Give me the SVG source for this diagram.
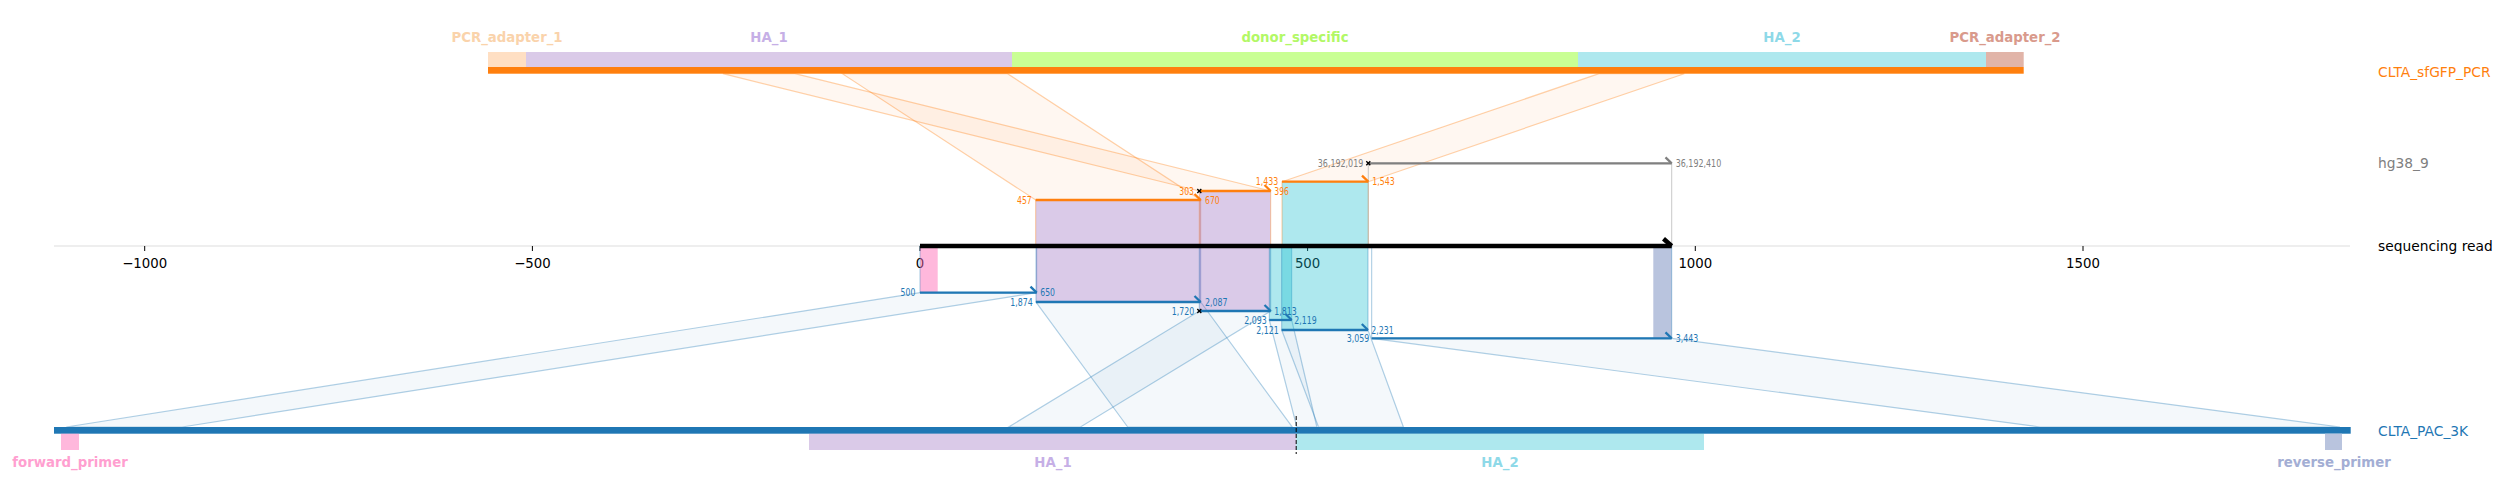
<svg xmlns="http://www.w3.org/2000/svg" width="2504" height="503" viewBox="0 0 2504 503">
<style>
text{font-family:"DejaVu Sans","Liberation Sans",sans-serif}
.tick{font-size:13.3px;fill:#000;text-anchor:middle}
.trk{font-size:13.8px}
.feat{font-size:13.3px;font-weight:bold;text-anchor:middle}
.num{font-size:10px}
.ro{fill:#ff7f0e;fill-opacity:0.06;stroke:#ff7f0e;stroke-opacity:0.35;stroke-width:1.2}
.rb{fill:#1f77b4;fill-opacity:0.05;stroke:#1f77b4;stroke-opacity:0.35;stroke-width:1.2}
.eo{fill:none;stroke:#ff7f0e;stroke-opacity:0.4;stroke-width:1}
.eb{fill:none;stroke:#1f77b4;stroke-opacity:0.4;stroke-width:1}
.eg{fill:none;stroke:#b0b0b0;stroke-opacity:0.7;stroke-width:1}
.pu{fill:#9467bd;fill-opacity:0.35}
.cy{fill:#17becf;fill-opacity:0.35}
.so{stroke:#ff7f0e;stroke-width:2.3;fill:none}
.sb{stroke:#1f77b4;stroke-width:2.3;fill:none}
.sg{stroke:#808080;stroke-width:2.3;fill:none}
.xm{stroke:#000;stroke-width:1.3}
</style>

<!-- axis -->
<g id="axis">
<line x1="54" y1="246" x2="2350" y2="246" stroke="#dddddd" stroke-width="1"/>
<g stroke="#000" stroke-width="1">
<line x1="144.7" y1="246" x2="144.7" y2="251"/>
<line x1="532.4" y1="246" x2="532.4" y2="251"/>
<line x1="920" y1="246" x2="920" y2="251"/>
<line x1="1307.6" y1="246" x2="1307.6" y2="251"/>
<line x1="1695.3" y1="246" x2="1695.3" y2="251"/>
<line x1="2083" y1="246" x2="2083" y2="251"/>
</g>
<text class="tick" x="144.7" y="268.3">−1000</text>
<text class="tick" x="532.4" y="268.3">−500</text>
<text class="tick" x="920" y="268.3">0</text>
<text class="tick" x="1307.6" y="268.3">500</text>
<text class="tick" x="1695.3" y="268.3">1000</text>
<text class="tick" x="2083" y="268.3">1500</text>
</g>

<!-- connectors: ribbons between references and read alignments -->
<g id="connectors">
<polygon class="ro" points="842.3,73.7 1007.5,73.7 1200.7,200 1035.7,200"/>
<polygon class="ro" points="722.9,73.7 795,73.7 1270.7,191 1199.3,191"/>
<polygon class="ro" points="1599,73.7 1684.3,73.7 1368.3,181.7 1282,181.7"/>
<polygon class="rb" points="920,292.7 1036.7,292.7 182.1,427 66.3,427"/>
<polygon class="rb" points="1036,302 1200.7,302 1292.2,427 1127.7,427"/>
<polygon class="rb" points="1199.3,311 1270.7,311 1080.5,427 1008.7,427"/>
<polygon class="rb" points="1269.3,320 1291.7,320 1316.9,427 1296.8,427"/>
<polygon class="rb" points="1281.7,330 1368,330 1403.4,427 1318.5,427"/>
<polygon class="rb" points="1371.7,338.3 1671.7,338.3 2340,427 2040,427"/>
</g>

<!-- top reference track -->
<g id="track-CLTA_sfGFP_PCR">
<rect x="488" y="52" width="38" height="15" fill="#ff7f0e" fill-opacity="0.25"/>
<rect x="526" y="52" width="486" height="15" class="pu"/>
<rect x="1012" y="52" width="566" height="15" fill="#7fff00" fill-opacity="0.42"/>
<rect x="1578" y="52" width="408" height="15" class="cy"/>
<rect x="1986" y="52" width="37.7" height="15" fill="#e1b4a8"/>
<rect x="488" y="67" width="1535.7" height="6.7" fill="#ff7f0e"/>
<text class="feat" x="507" y="42" fill="#fad3ab">PCR_adapter_1</text>
<text class="feat" x="769" y="42" fill="#c6afe6">HA_1</text>
<text class="feat" x="1295" y="42" fill="#b2f866">donor_specific</text>
<text class="feat" x="1782" y="42" fill="#8ed9e8">HA_2</text>
<text class="feat" x="2005" y="42" fill="#d99a8c">PCR_adapter_2</text>
<text class="trk" x="2378" y="77" fill="#ff7f0e">CLTA_sfGFP_PCR</text>
</g>

<g id="track-hg38_9">
<text class="trk" x="2378" y="168" fill="#808080">hg38_9</text>
</g>

<!-- bottom reference track -->
<g id="track-CLTA_PAC_3K">
<rect x="54" y="427" width="2296.7" height="6.7" fill="#1f77b4"/>
<rect x="61" y="433.7" width="18" height="16.3" fill="#ff69b4" fill-opacity="0.47"/>
<rect x="809" y="433.7" width="487.2" height="16.3" class="pu"/>
<rect x="1296.2" y="433.7" width="407.8" height="16.3" class="cy"/>
<rect x="2325" y="433.7" width="17" height="16.3" fill="#b9c4de"/>
<line x1="1296.2" y1="416" x2="1296.2" y2="454" stroke="#000" stroke-width="1" stroke-dasharray="4,2"/>
<text class="feat" x="70" y="466.5" fill="#ff9fd0">forward_primer</text>
<text class="feat" x="1053" y="466.5" fill="#c6afe6">HA_1</text>
<text class="feat" x="1500" y="466.5" fill="#8ed9e8">HA_2</text>
<text class="feat" x="2334" y="466.5" fill="#a3aed4">reverse_primer</text>
<text class="trk" x="2378" y="436" fill="#1f77b4">CLTA_PAC_3K</text>
</g>

<!-- alignment boxes on the read -->
<g id="aln-457-670">
<rect x="1035.7" y="200" width="165" height="46" class="pu"/>
<rect x="1035.7" y="200" width="165" height="46" class="eo"/>
</g>
<g id="aln-303-396">
<rect x="1199.3" y="191" width="71.4" height="55" class="pu"/>
<rect x="1199.3" y="191" width="71.4" height="55" class="eo"/>
</g>
<g id="aln-1433-1543">
<rect x="1282" y="181.7" width="86.3" height="64.3" class="cy"/>
<rect x="1282" y="181.7" width="86.3" height="64.3" class="eo"/>
</g>
<g id="aln-hg38">
<rect x="1368.3" y="163.3" width="303.4" height="82.7" class="eg"/>
</g>
<g id="aln-500-650">
<rect x="920" y="246" width="17.7" height="46.7" fill="#ff69b4" fill-opacity="0.47"/>
<rect x="920" y="246" width="116.7" height="46.7" class="eb"/>
</g>
<g id="aln-1874-2087">
<rect x="1036" y="246" width="164.7" height="56" class="pu"/>
<rect x="1036" y="246" width="164.7" height="56" class="eb"/>
</g>
<g id="aln-1720-1813">
<rect x="1199.3" y="246" width="71.4" height="65" class="pu"/>
<rect x="1199.3" y="246" width="71.4" height="65" class="eb"/>
</g>
<g id="aln-2093-2119">
<rect x="1269.3" y="246" width="22.4" height="74" class="cy"/>
<rect x="1269.3" y="246" width="22.4" height="74" class="eb"/>
</g>
<g id="aln-2121-2231">
<rect x="1281.7" y="246" width="86.3" height="84" class="cy"/>
<rect x="1281.7" y="246" width="86.3" height="84" class="eb"/>
</g>
<g id="aln-3059-3443">
<rect x="1653.3" y="246" width="18.4" height="92.3" fill="#b9c4de"/>
<rect x="1371.7" y="246" width="300" height="92.3" class="eb"/>
</g>

<!-- sequencing read -->
<g id="read">
<line x1="920" y1="246" x2="1671.7" y2="246" stroke="#000" stroke-width="4.5"/>
<line x1="1663.5" y1="238.8" x2="1671.7" y2="246" stroke="#000" stroke-width="4.5"/>
<text class="trk" x="2378" y="251" fill="#000">sequencing read</text>
</g>

<!-- alignment segments with labels -->
<g id="segments">
<line class="so" x1="1035.7" y1="200" x2="1200.7" y2="200"/><line class="so" x1="1194.5" y1="194" x2="1200.7" y2="200"/>
<text class="num" x="1031.7" y="203.6" fill="#ff7f0e" text-anchor="end" textLength="14.7" lengthAdjust="spacingAndGlyphs">457</text>
<text class="num" x="1205" y="203.6" fill="#ff7f0e" textLength="14.7" lengthAdjust="spacingAndGlyphs">670</text>

<line class="so" x1="1199.3" y1="191" x2="1270.7" y2="191"/><line class="so" x1="1264.5" y1="185" x2="1270.7" y2="191"/>
<text class="num" x="1194" y="194.6" fill="#ff7f0e" text-anchor="end" textLength="14.7" lengthAdjust="spacingAndGlyphs">303</text>
<text class="num" x="1274.3" y="194.6" fill="#ff7f0e" textLength="14.7" lengthAdjust="spacingAndGlyphs">396</text>

<line class="so" x1="1282" y1="181.7" x2="1368.3" y2="181.7"/><line class="so" x1="1362" y1="175.7" x2="1368.3" y2="181.7"/>
<text class="num" x="1278.3" y="185.3" fill="#ff7f0e" text-anchor="end" textLength="22.5" lengthAdjust="spacingAndGlyphs">1,433</text>
<text class="num" x="1372.3" y="185.3" fill="#ff7f0e" textLength="22.5" lengthAdjust="spacingAndGlyphs">1,543</text>

<line class="sg" x1="1368.3" y1="163.3" x2="1671.7" y2="163.3"/><line class="sg" x1="1665.5" y1="157.3" x2="1671.7" y2="163.3"/>
<text class="num" x="1363.3" y="166.9" fill="#808080" text-anchor="end" textLength="45.5" lengthAdjust="spacingAndGlyphs">36,192,019</text>
<text class="num" x="1675.7" y="166.9" fill="#808080" textLength="45.5" lengthAdjust="spacingAndGlyphs">36,192,410</text>

<line class="sb" x1="920" y1="292.7" x2="1036.7" y2="292.7"/><line class="sb" x1="1030.5" y1="286.7" x2="1036.7" y2="292.7"/>
<text class="num" x="915.3" y="296.3" fill="#1f77b4" text-anchor="end" textLength="14.7" lengthAdjust="spacingAndGlyphs">500</text>
<text class="num" x="1040.3" y="296.3" fill="#1f77b4" textLength="14.7" lengthAdjust="spacingAndGlyphs">650</text>

<line class="sb" x1="1036" y1="302" x2="1200.7" y2="302"/><line class="sb" x1="1194.5" y1="296" x2="1200.7" y2="302"/>
<text class="num" x="1032.7" y="305.6" fill="#1f77b4" text-anchor="end" textLength="22.5" lengthAdjust="spacingAndGlyphs">1,874</text>
<text class="num" x="1205" y="305.6" fill="#1f77b4" textLength="22.5" lengthAdjust="spacingAndGlyphs">2,087</text>

<line class="sb" x1="1199.3" y1="311" x2="1270.7" y2="311"/><line class="sb" x1="1264.5" y1="305" x2="1270.7" y2="311"/>
<text class="num" x="1194.3" y="314.6" fill="#1f77b4" text-anchor="end" textLength="22.5" lengthAdjust="spacingAndGlyphs">1,720</text>
<text class="num" x="1274.3" y="314.6" fill="#1f77b4" textLength="22.5" lengthAdjust="spacingAndGlyphs">1,813</text>

<line class="sb" x1="1269.3" y1="320" x2="1291.7" y2="320"/><line class="sb" x1="1285.5" y1="314" x2="1291.7" y2="320"/>
<text class="num" x="1266.7" y="323.6" fill="#1f77b4" text-anchor="end" textLength="22.5" lengthAdjust="spacingAndGlyphs">2,093</text>
<text class="num" x="1294.3" y="323.6" fill="#1f77b4" textLength="22.5" lengthAdjust="spacingAndGlyphs">2,119</text>

<line class="sb" x1="1281.7" y1="330" x2="1368" y2="330"/><line class="sb" x1="1361.8" y1="324" x2="1368" y2="330"/>
<text class="num" x="1278.7" y="333.6" fill="#1f77b4" text-anchor="end" textLength="22.5" lengthAdjust="spacingAndGlyphs">2,121</text>
<text class="num" x="1371.3" y="333.6" fill="#1f77b4" textLength="22.5" lengthAdjust="spacingAndGlyphs">2,231</text>

<line class="sb" x1="1371.7" y1="338.3" x2="1671.7" y2="338.3"/><line class="sb" x1="1665.5" y1="332.3" x2="1671.7" y2="338.3"/>
<text class="num" x="1369.3" y="341.9" fill="#1f77b4" text-anchor="end" textLength="22.5" lengthAdjust="spacingAndGlyphs">3,059</text>
<text class="num" x="1675.7" y="341.9" fill="#1f77b4" textLength="22.5" lengthAdjust="spacingAndGlyphs">3,443</text>

<g class="xm">
<line x1="1197.3" y1="189" x2="1201.3" y2="193"/><line x1="1197.3" y1="193" x2="1201.3" y2="189"/>
<line x1="1366.3" y1="161.3" x2="1370.3" y2="165.3"/><line x1="1366.3" y1="165.3" x2="1370.3" y2="161.3"/>
<line x1="1197.3" y1="309" x2="1201.3" y2="313"/><line x1="1197.3" y1="313" x2="1201.3" y2="309"/>
</g>
</g>
</svg>
